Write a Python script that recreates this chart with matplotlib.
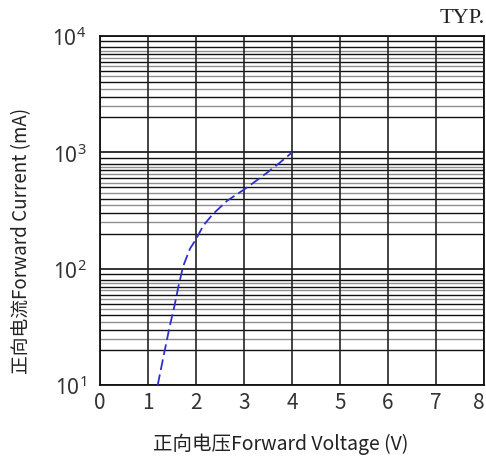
import numpy as np
import matplotlib
matplotlib.use('Agg')
import matplotlib.pyplot as plt
from matplotlib.ticker import FixedLocator, FuncFormatter, NullFormatter
from matplotlib.transforms import ScaledTranslation

plt.rcParams['font.family'] = ['Noto Sans CJK SC', 'DejaVu Sans']
plt.rcParams['mathtext.fontset'] = 'custom'
plt.rcParams['mathtext.rm'] = 'Noto Sans'

# curve
voltage = [1.2, 1.3, 1.45, 1.55, 1.63, 1.73, 1.87, 2.0, 2.15, 2.35, 2.65, 3.0, 3.25, 3.5, 3.75, 4.0]
current = [10, 16, 32, 48, 70, 105, 148, 180, 235, 295, 385, 480, 570, 680, 820, 1000]

x_ticks = [0, 1, 2, 3, 4, 5, 6, 7, 8]
y_decades = [10, 100, 1000, 10000]
y_labels = ['$10^{1}$', '$10^{2}$', '$10^{3}$', '$10^{4}$']

fig = plt.figure(figsize=(4.86, 4.64), dpi=100)
ax = fig.add_axes([0.206, 0.168, 0.790, 0.752])
ax.set_yscale('log')
ax.set_xlim(0, 8)
ax.set_ylim(10, 10000)

# log paper grid: integer multiples dark, half steps grey
dark = []
light = []
for d in y_decades[:-1]:
    for m in range(2, 10):
        dark.append(m * d)
    for m in range(2, 8):
        light.append((m + 0.5) * d)
for y in dark:
    ax.axhline(y, color='#111111', lw=1.0, zorder=1)
for y in light:
    ax.axhline(y, color='#8f8f8f', lw=1.0, zorder=1)
for y in y_decades:
    ax.axhline(y, color='#111111', lw=1.2, zorder=1)
for x in x_ticks:
    ax.axvline(x, color='#222222', lw=1.2, zorder=1)

ax.plot(voltage, current, color='#2f2fd0', lw=1.3, ls=(0, (6, 2.5)), zorder=3)

ax.xaxis.set_major_locator(FixedLocator(x_ticks))
ax.yaxis.set_major_locator(FixedLocator(y_decades))
ax.yaxis.set_minor_formatter(NullFormatter())
ax.yaxis.set_major_formatter(FuncFormatter(lambda v, p: y_labels[y_decades.index(int(round(v)))] if int(round(v)) in y_decades else ''))
ax.tick_params(axis='both', which='both', length=0)
ax.tick_params(axis='x', labelsize=15, pad=4, colors='#333333')
ax.tick_params(axis='y', labelsize=15, pad=10, colors='#333333')

for s in ax.spines.values():
    s.set_color('#111111')
    s.set_linewidth(1.3)

ax.set_xlabel('正向电压Forward Voltage (V)', fontsize=14, color='#222222', labelpad=18)
ax.xaxis.set_label_coords(0.47, -0.135)
ax.set_ylabel('正向电流Forward Current (mA)', fontsize=13.5, color='#222222')
ax.yaxis.set_label_coords(-0.178, 0.415)

fig.canvas.draw()
last = ax.get_xticklabels()[-1]
last.set_transform(last.get_transform() + ScaledTranslation(-4 / 72, 0, fig.dpi_scale_trans))

fig.text(0.997, 0.961, 'TYP.', fontsize=16, family='Liberation Serif', ha='right', va='center', color='#222222')

fig.savefig('out.png', dpi=100)
